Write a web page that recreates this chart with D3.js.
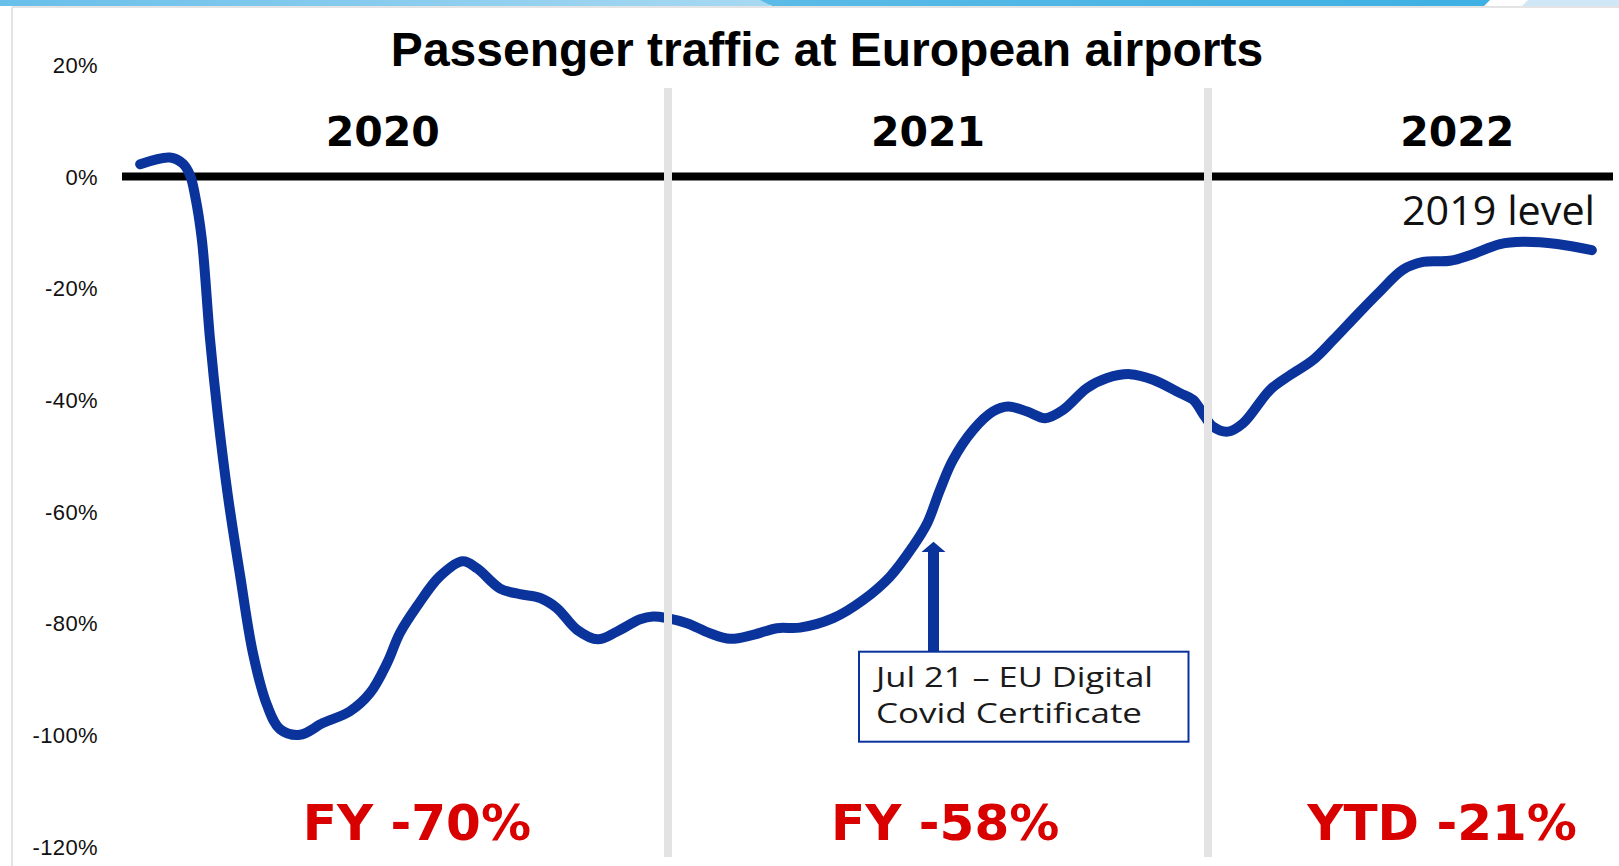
<!DOCTYPE html>
<html>
<head>
<meta charset="utf-8">
<script src="https://cdn.jsdelivr.net/npm/d3@7"></script>
<style>
	body { margin: 0; background: #fff; overflow: hidden; }
</style>
</head>
<body>
<div id="chart"></div>
<script>
// months since Jan 2020, change vs 2019 in %
const months = [0.27, 0.93, 1.22, 1.38, 1.49, 1.64, 1.82, 2.0, 2.22, 2.49, 2.78, 3.09, 3.38, 3.82,
	4.33, 4.93, 5.38, 5.76, 6.04, 6.42, 6.93, 7.44, 7.76, 8.27, 8.71, 9.16, 9.53, 9.98, 10.44, 10.87,
	11.38, 11.67, 11.98, 12.42, 12.93, 13.38, 13.89, 14.42, 14.93, 15.67, 16.33, 16.93, 17.44, 17.76,
	18.04, 18.33, 18.78, 19.22, 19.56, 19.98, 20.38, 20.78, 21.31, 21.76, 22.27, 22.78, 23.38, 23.67,
	23.93, 24.11, 24.44, 24.78, 25.38, 25.82, 26.33, 26.78, 27.31, 27.82, 28.33, 28.78, 29.38, 29.82,
	30.49, 31.0, 31.76, 32.53];
const change = [2.2, 3.4, 2.3, 0.2, -3.4, -11.2, -28.9, -43.0, -57.2, -71.4, -85.5, -94.7, -99.0, -100.0,
	-97.9, -95.8, -92.5, -87.1, -81.8, -77.0, -71.6, -68.9, -70.2, -73.8, -74.8, -75.5, -77.3, -81.2, -82.9, -81.5,
	-79.3, -78.8, -79.1, -80.0, -81.8, -82.8, -82.1, -80.9, -80.8, -79.1, -75.9, -71.7, -66.3, -62.1,
	-56.2, -50.8, -45.4, -42.1, -41.2, -42.1, -43.3, -41.8, -37.9, -36.1, -35.4, -36.4, -38.8, -40.0,
	-43.0, -44.8, -45.7, -44.2, -38.2, -35.6, -32.9, -29.3, -24.8, -20.6, -16.7, -15.3, -15.1, -14.1,
	-12.1, -11.7, -12.1, -13.2];

const years = ["2020", "2021", "2022"];
const yearTotals = ["FY -70%", "FY -58%", "YTD -21%"];
const yTicks = [20, 0, -20, -40, -60, -80, -100, -120];
const certificateMonth = 17.9;

const width = 1619, height = 866;
const blue = "#0a339b";

const svg = d3.select("#chart")
	.append("svg")
	.attr("width", width)
	.attr("height", height);

const x = d3.scaleLinear().domain([0, 24]).range([128, 1208]);
const y = d3.scaleLinear().domain([-120, 20]).range([846.5, 64.8]);

// top banner
const defs = svg.append("defs");
const g1 = defs.append("linearGradient").attr("id", "bannerA");
g1.append("stop").attr("offset", "0%").attr("stop-color", "#68bfea");
g1.append("stop").attr("offset", "100%").attr("stop-color", "#a8d9f2");
const g2 = defs.append("linearGradient").attr("id", "bannerB");
g2.append("stop").attr("offset", "0%").attr("stop-color", "#5cbbe7");
g2.append("stop").attr("offset", "100%").attr("stop-color", "#3eb0e3");

svg.append("rect").attr("x", 0).attr("y", 0).attr("width", 770).attr("height", 6).attr("fill", "url(#bannerA)");
svg.append("path").attr("d", "M760,0 L1490,0 L1484,6 L772,6 Z").attr("fill", "url(#bannerB)");
svg.append("path").attr("d", "M1528,0 L1619,0 L1619,6 L1522,6 Z").attr("fill", "#cfe7f7");

// frame
svg.append("line").attr("x1", 12).attr("x2", width).attr("y1", 7).attr("y2", 7)
	.attr("stroke", "#e4e4e4").attr("stroke-width", 2);
svg.append("line").attr("x1", 12).attr("x2", 12).attr("y1", 7).attr("y2", height)
	.attr("stroke", "#e4e4e4").attr("stroke-width", 2);

// title
svg.append("text")
	.attr("x", 827).attr("y", 66)
	.attr("text-anchor", "middle")
	.style("font-family", "Liberation Sans, Arial, sans-serif")
	.style("font-weight", "bold")
	.style("font-size", "48px")
	.attr("fill", "#000")
	.text("Passenger traffic at European airports");

// y axis
const yAxis = svg.append("g")
	.attr("transform", "translate(100,0)")
	.call(d3.axisLeft(y).tickValues(yTicks).tickSize(0).tickPadding(2).tickFormat(d => d + "%"));
yAxis.select(".domain").remove();
yAxis.selectAll("text")
	.attr("dy", "0.35em")
	.style("font-family", "Liberation Sans, Arial, sans-serif")
	.style("font-size", "22px")
	.style("letter-spacing", "0.4px")
	.attr("fill", "#111");

// 2019 level line
svg.append("line")
	.attr("x1", 122).attr("x2", 1613)
	.attr("y1", y(0)).attr("y2", y(0))
	.attr("stroke", "#000").attr("stroke-width", 8);

svg.append("text")
	.attr("x", 1595).attr("y", 225)
	.attr("text-anchor", "end")
	.attr("textLength", 193).attr("lengthAdjust", "spacingAndGlyphs")
	.style("font-family", "Open Sans, sans-serif")
	.style("font-size", "40px")
	.attr("fill", "#111")
	.text("2019 level");

// traffic line
const points = months.map((m, i) => [m, change[i]]);
const line = d3.line()
	.x(d => x(d[0]))
	.y(d => y(d[1]))
	.curve(d3.curveCatmullRom.alpha(0.5));

svg.append("path")
	.datum(points)
	.attr("d", line)
	.attr("fill", "none")
	.attr("stroke", blue)
	.attr("stroke-width", 10)
	.attr("stroke-linecap", "round")
	.attr("stroke-linejoin", "round");

// year separators
svg.selectAll(".sep")
	.data([12, 24]).enter()
	.append("line")
	.attr("class", "sep")
	.attr("x1", d => x(d)).attr("x2", d => x(d))
	.attr("y1", 88).attr("y2", 857)
	.attr("stroke", "#e3e3e3").attr("stroke-width", 8);

// year labels
const yearsAt = [5.66, 17.78, 29.54];
svg.selectAll(".year")
	.data(years).enter()
	.append("text")
	.attr("class", "year")
	.attr("x", (d, i) => x(yearsAt[i]))
	.attr("y", 146)
	.attr("text-anchor", "middle")
	.style("font-family", "DejaVu Sans, sans-serif")
	.style("font-weight", "bold")
	.style("font-size", "41px")
	.attr("fill", "#000")
	.text(d => d);

// yearly totals
const totalsAt = [6.42, 18.16, 29.2];
svg.selectAll(".total")
	.data(yearTotals).enter()
	.append("text")
	.attr("class", "total")
	.attr("x", (d, i) => x(totalsAt[i]))
	.attr("y", 840)
	.attr("text-anchor", "middle")
	.style("font-family", "DejaVu Sans, sans-serif")
	.style("font-weight", "bold")
	.style("font-size", "50px")
	.attr("fill", "#d90000")
	.text(d => d);

// annotation: EU digital covid certificate
const ax = x(certificateMonth);
const boxTop = 651.7;
svg.append("path")
	.attr("d", `M${ax - 5.5},${boxTop} L${ax - 5.5},552 L${ax - 12},552 L${ax},541.7 L${ax + 12},552 L${ax + 5.5},552 L${ax + 5.5},${boxTop} Z`)
	.attr("fill", blue);

svg.append("rect")
	.attr("x", ax - 74.5).attr("y", boxTop)
	.attr("width", 329.5).attr("height", 90)
	.attr("fill", "#fff")
	.attr("stroke", blue).attr("stroke-width", 2);

const note = svg.append("g")
	.style("font-family", "Open Sans, sans-serif")
	.style("font-size", "28px")
	.attr("fill", "#1a1a1a");
note.append("text")
	.attr("x", ax - 57.5).attr("y", 686.7)
	.attr("textLength", 277).attr("lengthAdjust", "spacingAndGlyphs")
	.text("Jul 21 \u2013 EU Digital");
note.append("text")
	.attr("x", ax - 57.5).attr("y", 723.3)
	.attr("textLength", 266).attr("lengthAdjust", "spacingAndGlyphs")
	.text("Covid Certificate");
</script>
</body>
</html>
